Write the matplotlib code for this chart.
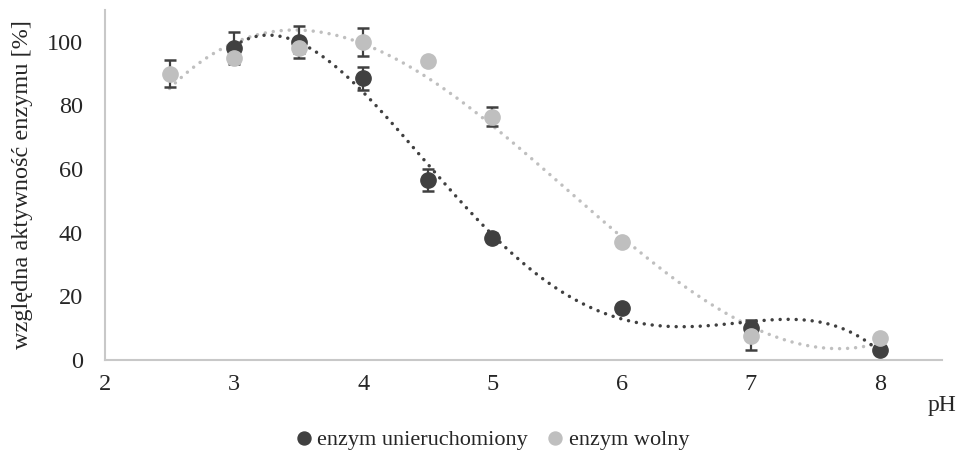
import numpy as np
import matplotlib.pyplot as plt

# pH series and relative activity [%]
ph_imm = [3, 3.5, 4, 4.5, 5, 6, 7, 8]
act_imm = [98, 100, 88.5, 56.5, 38.5, 16.5, 10, 3]
err_imm = [5, 5, 3.5, 3.5, 1.5, 1, 2.5, 0.5]

ph_free = [2.5, 3, 3.5, 4, 4.5, 5, 6, 7, 8]
act_free = [90, 95, 98, 100, 94, 76.5, 37, 7.5, 7]
err_free = [4.2, 1, 1.5, 4.3, 0.5, 3, 1.2, 4.5, 0.5]

dark = '#404040'
light = '#bfbfbf'
text_c = '#262626'

plt.rcParams['font.family'] = ['Liberation Serif', 'DejaVu Serif']

fig = plt.figure(figsize=(9.6, 4.59), dpi=100)
ax = fig.add_axes([105 / 960, 1 - 360 / 459, (942 - 105) / 960, 350 / 459])

# polynomial trendlines
def trend(x, y, deg, color):
    c = np.polyfit(x, y, deg)
    xs = np.linspace(min(x), max(x), 300)
    ax.plot(xs, np.polyval(c, xs), color=color, lw=2.5,
            linestyle=(0, (0.01, 2.3)), dash_capstyle='round', zorder=2)

trend(ph_free, act_free, 3, light)
trend(ph_imm, act_imm, 4, dark)

ax.errorbar(ph_imm, act_imm, yerr=err_imm, fmt='none', ecolor=dark,
            elinewidth=1.6, capsize=4, capthick=1.8, zorder=3)
ax.errorbar(ph_free, act_free, yerr=err_free, fmt='none', ecolor=dark,
            elinewidth=1.6, capsize=4, capthick=1.8, zorder=3)
ax.plot(ph_imm, act_imm, 'o', color=dark, ms=11, zorder=4,
        label='enzym unieruchomiony')
ax.plot(ph_free, act_free, 'o', color=light, ms=11, zorder=5,
        label='enzym wolny')

ax.set_xlim(2, 8.48)
ax.set_ylim(0, 110)
ax.set_xticks(range(2, 9))
ax.set_yticks(range(0, 101, 20))
ax.tick_params(length=0, labelsize=17.5, colors=text_c)
ax.tick_params(axis='y', pad=16)
ax.tick_params(axis='x', pad=10)
for s in ('top', 'right'):
    ax.spines[s].set_visible(False)
for s in ('left', 'bottom'):
    ax.spines[s].set_color('#c8c8c8')
    ax.spines[s].set_linewidth(1.5)

ax.set_ylabel('względna aktywność enzymu [%]', fontsize=17.5, color=text_c,
              labelpad=10)
fig.text(956 / 960, 1 - 406 / 459, 'pH', fontsize=17, color=text_c,
         ha='right', va='center')

fig.legend(loc='center', bbox_to_anchor=(492 / 960, 1 - 440 / 459),
           ncol=2, frameon=False, fontsize=16, handlelength=0.8,
           handletextpad=0.2, columnspacing=0.85, markerscale=0.85,
           labelcolor=text_c)

fig.savefig('out.png', dpi=100)
